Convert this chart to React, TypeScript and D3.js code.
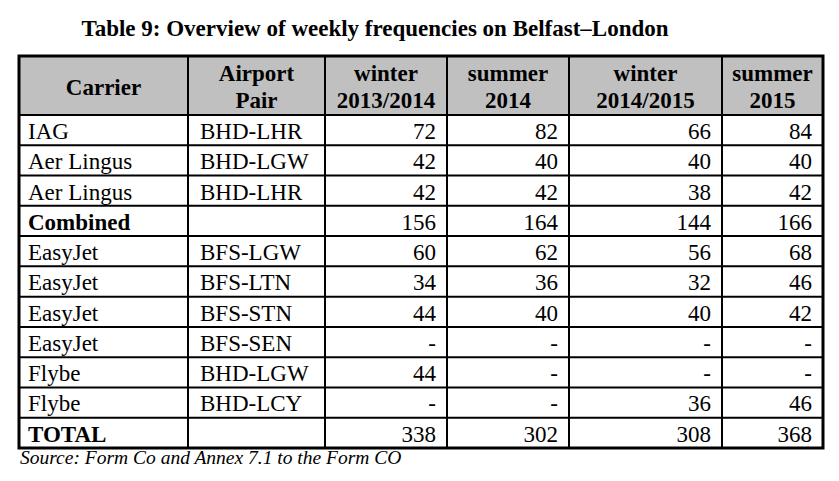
import { useEffect } from "react"
import * as d3 from "d3"

const title = "Table 9: Overview of weekly frequencies on Belfast\u2013London"
const source = "Source: Form Co and Annex 7.1 to the Form CO"

const headers = [
  ["Carrier"],
  ["Airport", "Pair"],
  ["winter", "2013/2014"],
  ["summer", "2014"],
  ["winter", "2014/2015"],
  ["summer", "2015"],
]

const carriers = ["IAG", "Aer Lingus", "Aer Lingus", "Combined", "EasyJet", "EasyJet", "EasyJet", "EasyJet", "Flybe", "Flybe", "TOTAL"]
const airportPairs = ["BHD-LHR", "BHD-LGW", "BHD-LHR", "", "BFS-LGW", "BFS-LTN", "BFS-STN", "BFS-SEN", "BHD-LGW", "BHD-LCY", ""]
const winter1314 = [72, 42, 42, 156, 60, 34, 44, null, 44, null, 338]
const summer14 = [82, 40, 42, 164, 62, 36, 40, null, null, null, 302]
const winter1415 = [66, 40, 38, 144, 56, 32, 40, null, null, 36, 308]
const summer15 = [84, 40, 42, 166, 68, 46, 42, null, null, 46, 368]
const boldRows = ["Combined", "TOTAL"]

const W = 839
const H = 481
const colEdges = [19, 188, 325, 447, 569, 722, 823]
const tableTop = 56
const headBottom = 115
const tableBottom = 448
const font = "'Liberation Serif', 'Times New Roman', serif"
const fs = 23

export default function App() {
  useEffect(() => {
    document.body.style.margin = "0"
  }, [])

  const y = d3.scaleBand<number>()
    .domain(d3.range(carriers.length))
    .range([headBottom, tableBottom])

  const series = [winter1314, summer14, winter1415, summer15]

  return (
    <svg width={W} height={H} style={{ display: "block", background: "#fff" }} fontFamily={font}>
      <text x={375} y={36} textAnchor="middle" fontSize={23} fontWeight="bold">{title}</text>

      {/* header */}
      <rect x={colEdges[0]} y={tableTop} width={colEdges[6] - colEdges[0]} height={headBottom - tableTop} fill="#c0c0c0" />
      {headers.map((h, i) => {
        const cx = (colEdges[i] + colEdges[i + 1]) / 2
        return h.length === 1
          ? <text key={i} x={cx} y={95} textAnchor="middle" fontSize={fs} fontWeight="bold">{h[0]}</text>
          : <text key={i} x={cx} textAnchor="middle" fontSize={fs} fontWeight="bold">
              <tspan x={cx} y={81}>{h[0]}</tspan>
              <tspan x={cx} y={108}>{h[1]}</tspan>
            </text>
      })}

      {/* body rows */}
      {carriers.map((c, r) => {
        const top = y(r)!
        const bold = boldRows.includes(c)
        return (
          <g key={r} fontSize={fs} fontWeight={bold ? "bold" : "normal"}>
            <text x={colEdges[0] + 9} y={top + 24}>{c}</text>
            <text x={colEdges[1] + 12} y={top + 24} fontWeight="normal">{airportPairs[r]}</text>
            {series.map((s, k) => (
              <text key={k} x={colEdges[k + 3] - 11} y={top + 24} textAnchor="end" fontWeight="normal">
                {s[r] == null ? "-" : s[r]}
              </text>
            ))}
          </g>
        )
      })}

      {/* grid */}
      {carriers.map((_, r) => (
        <line key={"h" + r} x1={colEdges[0]} x2={colEdges[6]} y1={y(r)!} y2={y(r)!} stroke="#000" strokeWidth={2} />
      ))}
      {colEdges.slice(1, -1).map((x, i) => (
        <line key={"v" + i} x1={x} x2={x} y1={tableTop} y2={tableBottom} stroke="#000" strokeWidth={2} />
      ))}
      <rect x={colEdges[0]} y={tableTop} width={colEdges[6] - colEdges[0]} height={tableBottom - tableTop}
        fill="none" stroke="#000" strokeWidth={3} />

      <text x={20} y={464} fontSize={19.5} fontStyle="italic">{source}</text>
    </svg>
  )
}
